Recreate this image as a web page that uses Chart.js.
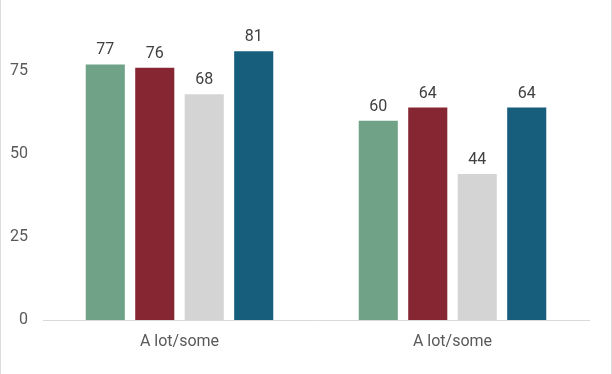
<!DOCTYPE html>
<html>
<head>
<meta charset="utf-8">
<script src="https://cdn.jsdelivr.net/npm/chart.js@4"></script>
<style>
  html, body { margin: 0; padding: 0; background: #fff; }
  #wrap { width: 612px; height: 374px; box-sizing: border-box; border-left: 1px solid #dcdcdc; border-right: 1px solid #dcdcdc; }
</style>
</head>
<body>
<div id="wrap"><canvas id="graphCanvas" width="610" height="374"></canvas></div>
<script>
// chart data
var categories = ['A lot/some', 'A lot/some'];
var series1 = [77, 60];
var series2 = [76, 64];
var series3 = [68, 44];
var series4 = [81, 64];
var yTicks = [0, 25, 50, 75];

var colors = ['#6fa287', '#862633', '#d4d4d4', '#175d7c'];

// value labels over the bars
var barLabels = {
    id: 'barLabels',
    afterDatasetsDraw: function(chart) {
        var ctx = chart.ctx;
        ctx.save();
        ctx.font = '16px Roboto';
        ctx.fillStyle = '#404040';
        ctx.textAlign = 'center';
        ctx.textBaseline = 'alphabetic';
        chart.data.datasets.forEach(function(ds, i) {
            chart.getDatasetMeta(i).data.forEach(function(bar, j) {
                ctx.fillText(ds.data[j], bar.x, bar.y - 10);
            });
        });
        ctx.restore();
    }
};

var chartData = {
    labels: categories,
    datasets: [
        { label: 's1', data: series1, backgroundColor: colors[0] },
        { label: 's2', data: series2, backgroundColor: colors[1] },
        { label: 's3', data: series3, backgroundColor: colors[2] },
        { label: 's4', data: series4, backgroundColor: colors[3] }
    ]
};

var barGraph = new Chart(document.getElementById('graphCanvas'), {
    type: 'bar',
    data: chartData,
    plugins: [barLabels],
    options: {
        responsive: false,
        animation: false,
        categoryPercentage: 0.725,
        barPercentage: 0.79,
        layout: { padding: { top: 18, right: 22, left: 0, bottom: 0 } },
        plugins: {
            legend: { display: false },
            tooltip: { enabled: false }
        },
        scales: {
            x: {
                grid: { display: false, drawTicks: false },
                border: { display: true, color: '#d9d9d9', width: 1 },
                ticks: { color: '#595959', font: { family: 'Roboto', size: 16 }, padding: 12 },
                afterFit: function(scale) { scale.height = 54; }
            },
            y: {
                min: 0,
                max: 89,
                grid: { display: false, drawTicks: false },
                border: { display: false },
                ticks: { color: '#595959', font: { family: 'Roboto', size: 16 }, padding: 15 },
                afterBuildTicks: function(scale) {
                    scale.ticks = yTicks.map(function(v) { return { value: v }; });
                },
                afterFit: function(scale) { scale.width = 42; }
            }
        }
    }
});
</script>
</body>
</html>
